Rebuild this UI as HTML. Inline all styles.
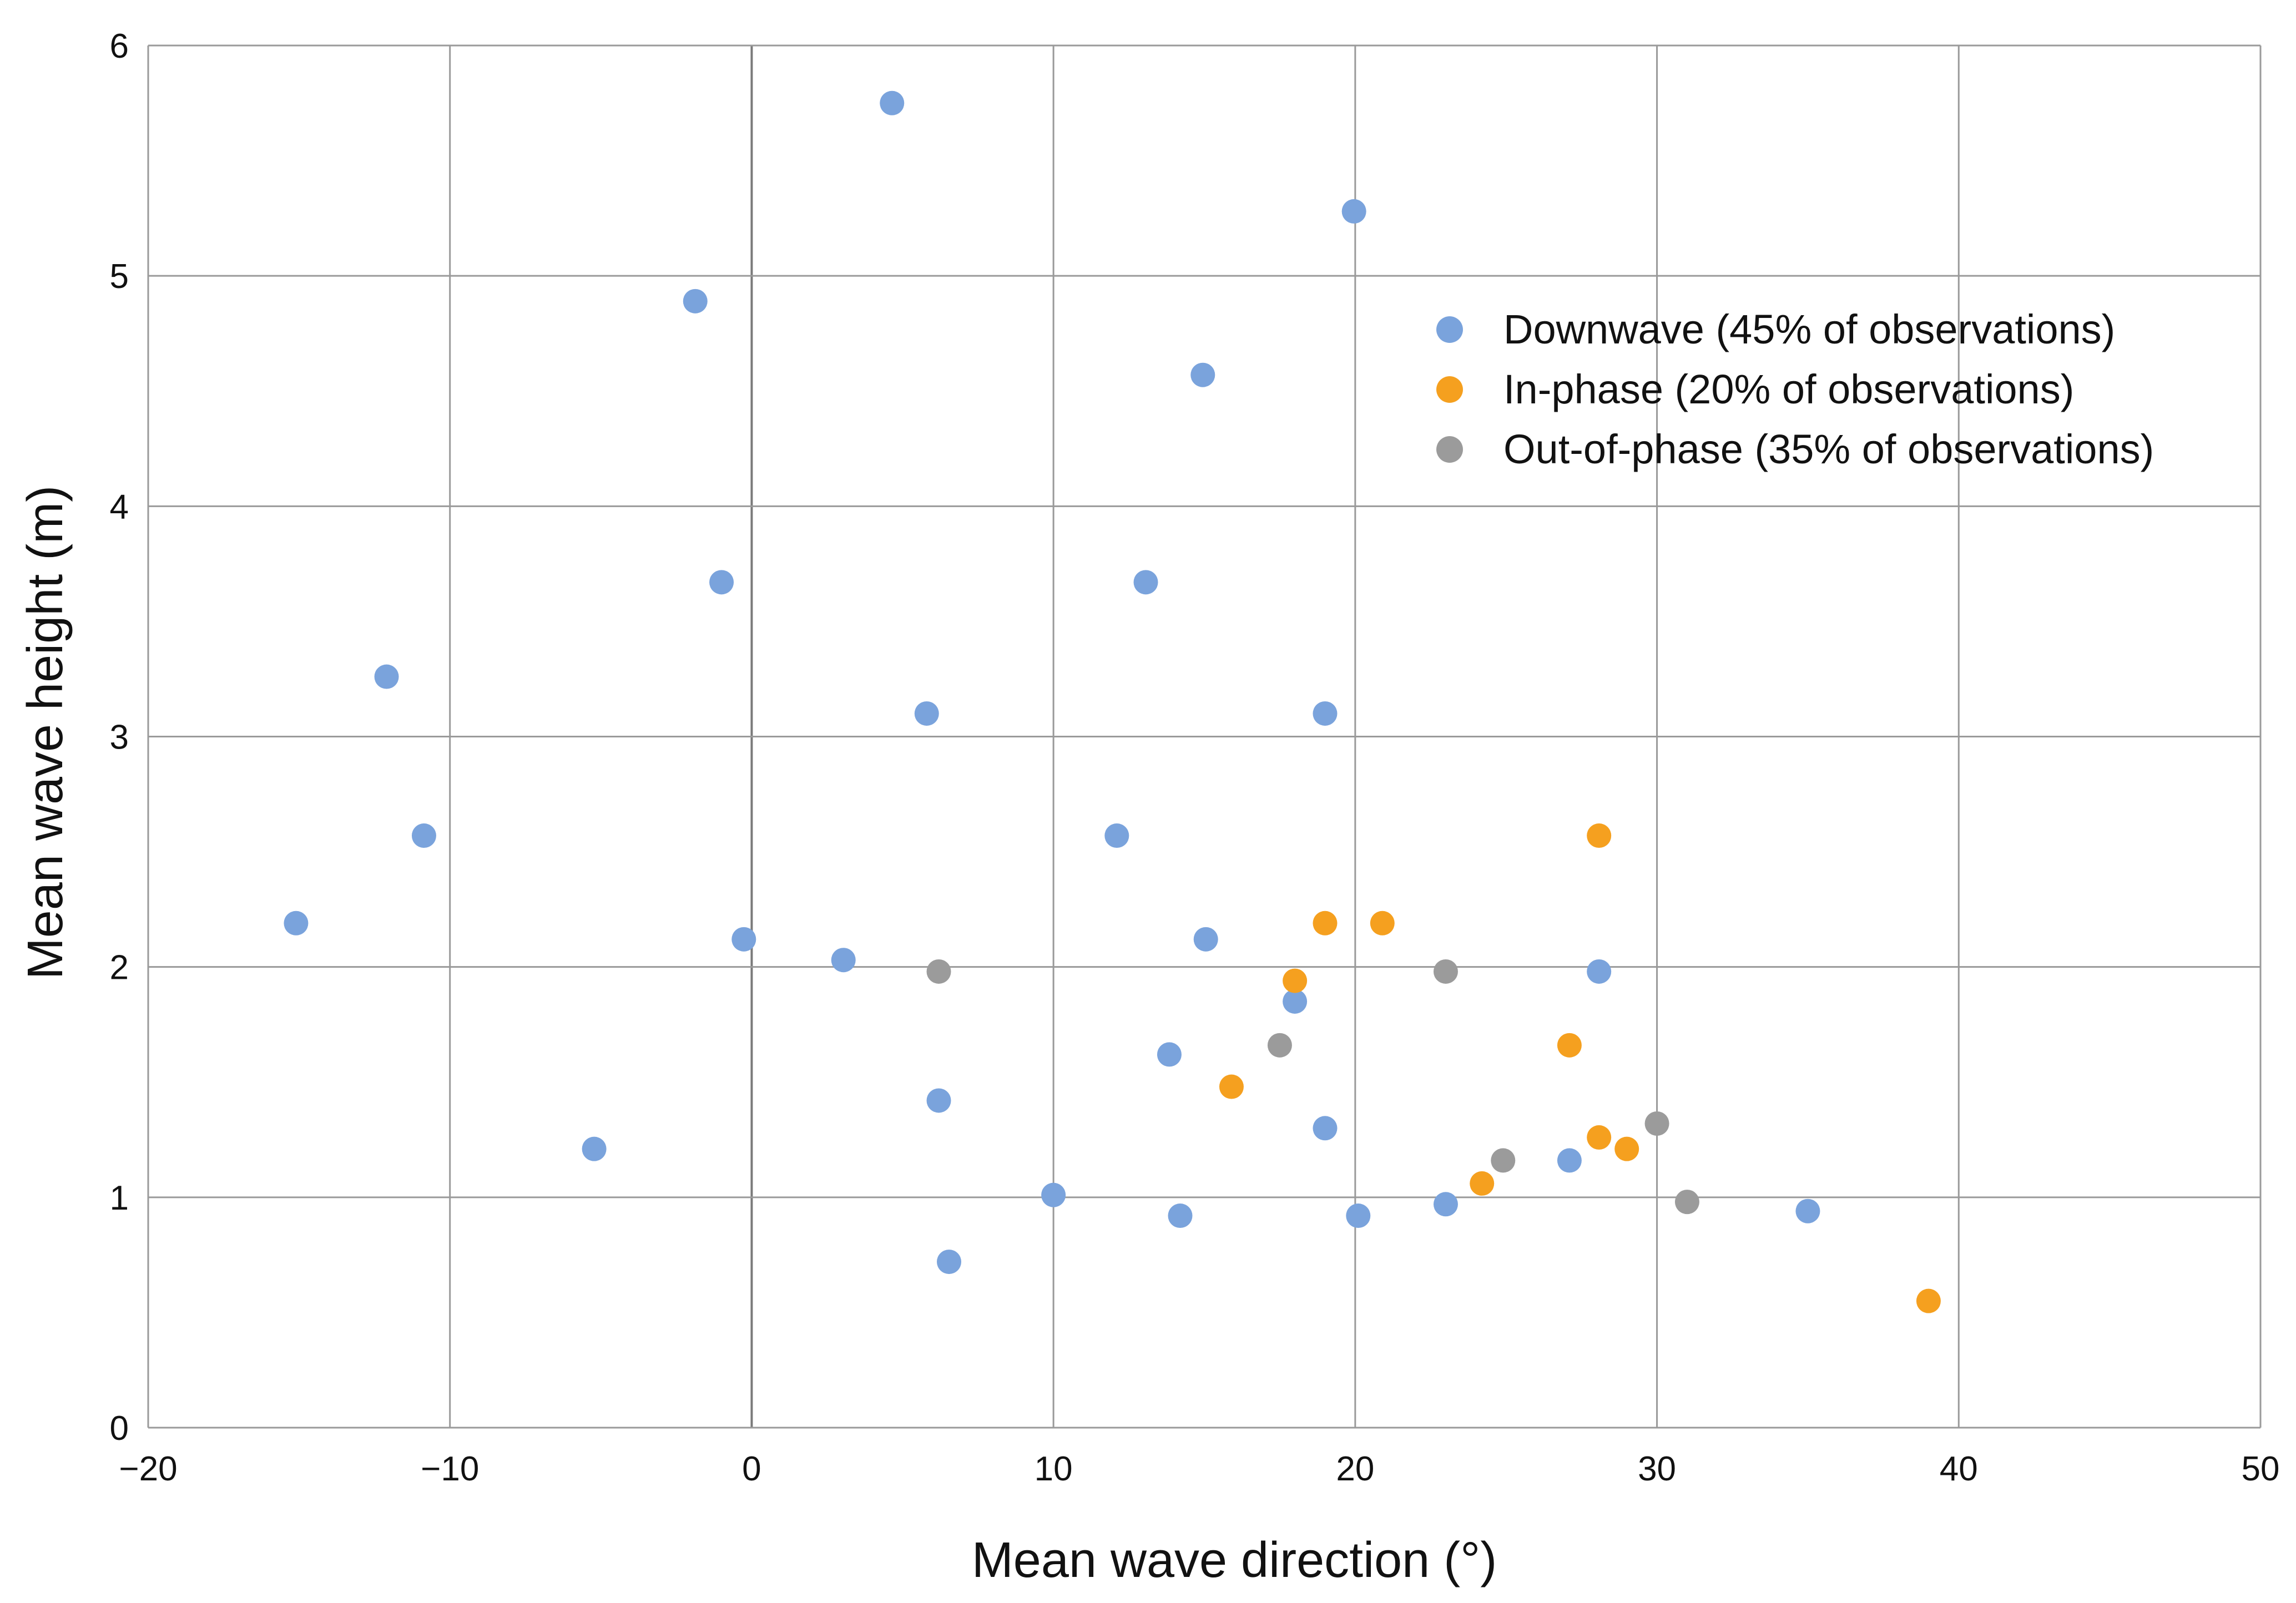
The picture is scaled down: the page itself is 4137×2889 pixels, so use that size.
<!DOCTYPE html>
<html><head><meta charset="utf-8"><style>
html,body{margin:0;padding:0;background:#fff;}
svg{display:block;font-family:"Liberation Sans",sans-serif;}
</style></head><body>
<svg id="chart" width="4137" height="2889" viewBox="0 0 4137 2889" xmlns="http://www.w3.org/2000/svg">
<g id="grid"></g>
<g id="ticks"></g>
<g id="points"></g>
<text x="0" y="0" transform="translate(112,1320) rotate(-90)" text-anchor="middle" font-size="90" fill="#111">Mean wave height (m)</text>
<text x="2224" y="2842" text-anchor="middle" font-size="90" fill="#111">Mean wave direction (°)</text>
<g>
<g><circle cx="2612" cy="594" r="24" fill="#7aa3dc"/><text x="2709" y="619" font-size="74" fill="#111">Downwave (45% of observations)</text></g>
<g><circle cx="2612" cy="702" r="24" fill="#f5a01f"/><text x="2709" y="727" font-size="74" fill="#111">In-phase (20% of observations)</text></g>
<g><circle cx="2612" cy="810" r="24" fill="#9b9b9b"/><text x="2709" y="835" font-size="74" fill="#111">Out-of-phase (35% of observations)</text></g>
</g>
</svg>
<script>
const xTicks = [-20,-10,0,10,20,30,40,50];
const yTicks = [0,1,2,3,4,5,6];
const downX = [4.65,19.96,-1.87,14.95,-1.0,13.06,-12.1,5.8,19.0,-10.86,12.1,-15.1,-0.26,15.05,3.04,28.08,18.0,13.84,6.2,19.0,-5.22,27.1,10.0,23.0,14.2,20.1,35.0,6.54];
const downY = [5.75,5.28,4.89,4.57,3.67,3.67,3.26,3.10,3.10,2.57,2.57,2.19,2.12,2.12,2.03,1.98,1.85,1.62,1.42,1.30,1.21,1.16,1.01,0.97,0.92,0.92,0.94,0.72];
const inX = [28.08,19.0,20.9,18.0,27.1,15.9,28.08,29.0,24.2,39.0];
const inY = [2.57,2.19,2.19,1.94,1.66,1.48,1.26,1.21,1.06,0.55];
const outX = [6.2,23.0,17.5,30.0,24.9,31.0];
const outY = [1.98,1.98,1.66,1.32,1.16,0.98];

const L=267,R=4073,T=82,B=2573;
const xMin=-20,xMax=50,yMin=0,yMax=6;
function sx(v){return L+(v-xMin)/(xMax-xMin)*(R-L);}
function sy(v){return B-(v-yMin)/(yMax-yMin)*(B-T);}
const NS="http://www.w3.org/2000/svg";
function mk(tag,attrs,parent){const e=document.createElementNS(NS,tag);for(const k in attrs)e.setAttribute(k,attrs[k]);parent.appendChild(e);return e;}
const grid=document.getElementById('grid'),ticks=document.getElementById('ticks'),pts=document.getElementById('points');
xTicks.forEach(v=>{
  const ln=mk('line',{x1:sx(v),x2:sx(v),y1:T,y2:B,stroke:v===0?'#7a7a7a':'#9a9a9a','stroke-width':v===0?4:3},grid);
  
  
  const t=mk('text',{x:sx(v),y:2668,'text-anchor':'middle','font-size':62,fill:'#111'},ticks);
  t.textContent=(v<0?'\u2212'+Math.abs(v):String(v));
  
  
});
yTicks.forEach(v=>{
  const ln=mk('line',{x1:L,x2:R,y1:sy(v),y2:sy(v),stroke:'#9a9a9a','stroke-width':3},grid);
  
  
  const t=mk('text',{x:232,y:sy(v)+22,'text-anchor':'end','font-size':62,fill:'#111'},ticks);
  t.textContent=String(v);
  
  
});
function series(xs,ys,color,name){
  xs.forEach((x,i)=>{
    const c=mk('circle',{cx:sx(x),cy:sy(ys[i]),r:22,fill:color},pts);
    
    
  });
}
series(downX,downY,'#7aa3dc','downwave-point');
series(inX,inY,'#f5a01f','in-phase-point');
series(outX,outY,'#9b9b9b','out-of-phase-point');
</script>
</body></html>
